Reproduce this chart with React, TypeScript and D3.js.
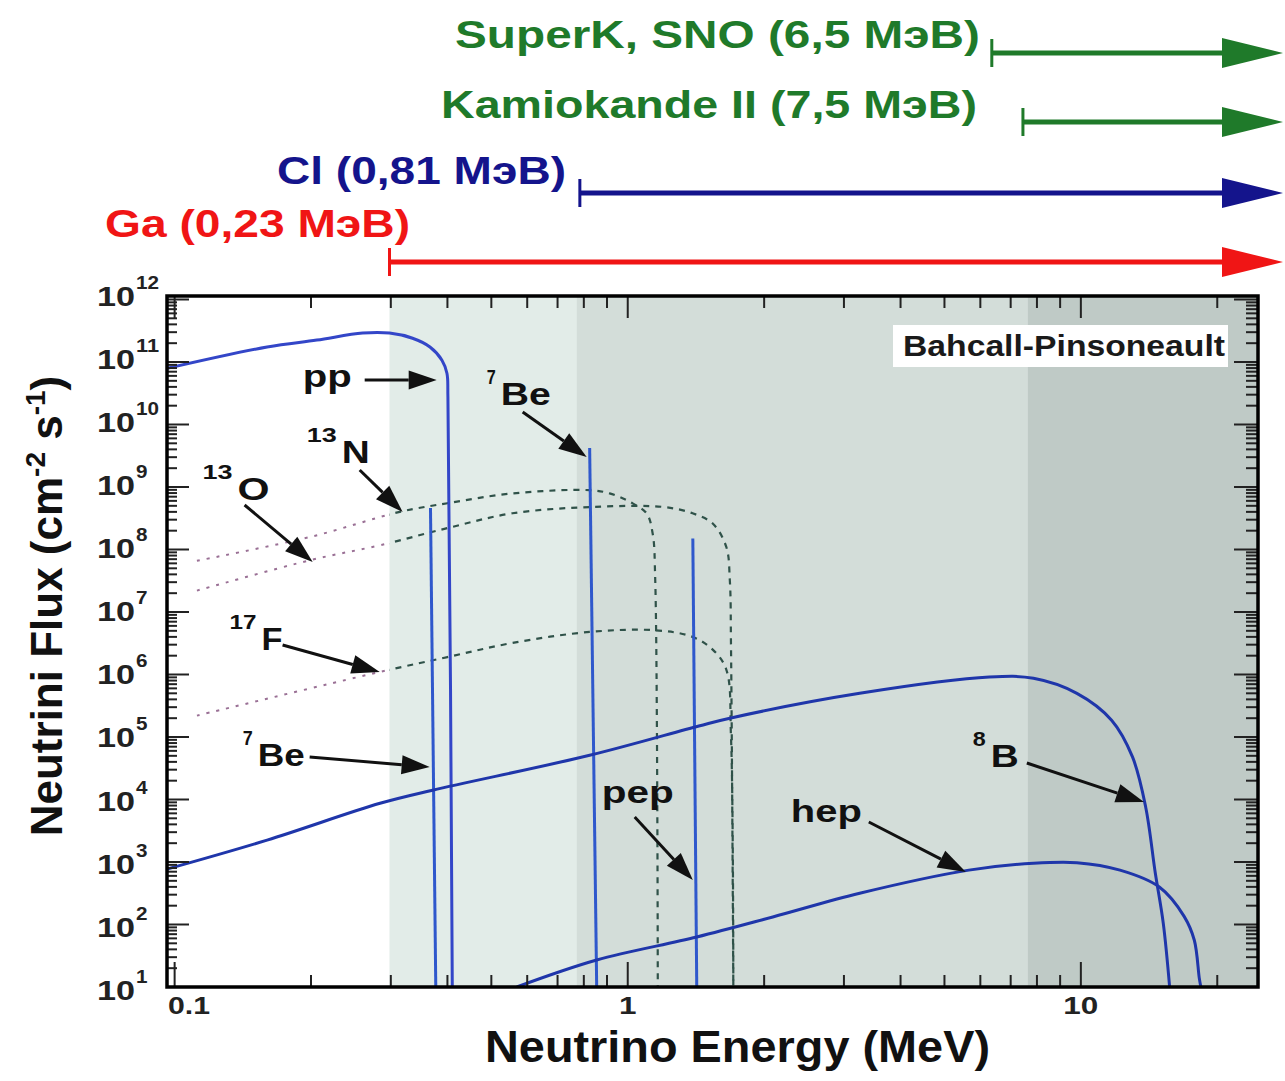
import React from 'react';
import * as d3 from 'd3';

// ---------------- data (energy in MeV, flux in cm^-2 s^-1) ----------------
const ppSpectrum: [number, number][] = [
  [0.0962, 7.9e10], [0.16, 1.74e11], [0.206, 2.24e11], [0.26, 2.9e11], [0.298, 2.9e11],
  [0.335, 2.4e11], [0.366, 1.74e11], [0.389, 1.07e11], [0.399, 6.6e10], [0.401, 2.75e10], [0.41, 10],
];
const n13Spectrum: [number, number][] = [
  [0.112, 6.6e7], [0.2, 1.6e8], [0.314, 4.0e8], [0.4, 5.5e8], [0.557, 7.9e8], [0.824, 8.9e8],
  [0.912, 7.9e8], [1.01, 5.8e8], [1.1, 3.8e8], [1.135, 1.8e8], [1.15, 3.2e7], [1.165, 10],
];
const o15Spectrum: [number, number][] = [
  [0.112, 2.2e7], [0.2, 6.8e7], [0.284, 1.17e8], [0.4, 2.2e8], [0.557, 3.8e8], [0.837, 4.8e8],
  [1.195, 4.8e8], [1.39, 3.8e8], [1.54, 2.6e8], [1.65, 1.1e8], [1.68, 3.2e7], [1.69, 2.8e6], [1.71, 10],
];
const f17Spectrum: [number, number][] = [
  [0.112, 2.2e5], [0.284, 1.1e6], [0.4, 1.9e6], [0.557, 3.2e6], [0.824, 4.8e6], [1.15, 5.1e6],
  [1.39, 4.0e6], [1.54, 2.5e6], [1.65, 1.2e6], [1.69, 1e5], [1.71, 10],
];
const b8Spectrum: [number, number][] = [
  [0.0962, 770], [0.16, 2240], [0.284, 8700], [0.371, 1.41e4], [0.824, 5.1e4],
  [1.435, 1.5e5], [1.68, 2.0e5], [3.25, 5.0e5], [6.28, 9.1e5], [7.86, 8.7e5], [9.8, 5.0e5],
  [11.69, 1.86e5], [13.0, 4.8e4], [13.9, 7.6e3], [14.6, 660], [15.2, 105], [15.7, 10],
];
const hepSpectrum: [number, number][] = [
  [0.569, 10], [0.854, 27], [1.42, 63], [2.09, 132], [3.25, 316], [5.66, 741], [7.86, 955],
  [9.8, 977], [12.2, 741], [14.9, 398], [16.9, 135], [17.8, 56], [18.25, 14], [18.4, 10],
];
const be7Line384: [number, number][] = [[0.367, 4.6e8], [0.377, 10]];
const be7Line862: [number, number][] = [[0.824, 4.2e9], [0.854, 10]];
const pepLine: [number, number][] = [[1.392, 1.5e8], [1.42, 10]];

const shadeEnergies = [0.298, 0.772, 7.64];
const shadeColors = ['#e2ece8', '#d3ddd9', '#bfcac6'];

const detectorLabels = ['SuperK, SNO (6,5 МэВ)', 'Kamiokande II (7,5 МэВ)', 'Cl (0,81 МэВ)', 'Ga (0,23 МэВ)'];
const detectorEnergies = [6.36, 7.45, 0.784, 0.298];
const detectorColors = ['#1f7a2a', '#1f7a2a', '#14148c', '#f01515'];

const xMajorTicks = [0.1, 1, 10];
const xTickLabels = ['0.1', '1', '10'];
const yExponents = [1, 2, 3, 4, 5, 6, 7, 8, 9, 10, 11, 12];

// annotation labels: superscript, main text, label anchor [E, flux], arrow from, arrow to
const annSup = ['', '7', '13', '13', '17', '7', '', '', '8'];
const annText = ['pp', 'Be', 'N', 'O', 'F', 'Be', 'pep', 'hep', 'B'];
const annAt: [number, number][] = [
  [0.1917, 3.98e10], [0.4884, 2.05e10], [0.1956, 2.42e9], [0.1153, 6.19e8], [0.1322, 2.47e6],
  [0.1413, 3.44e4], [0.8762, 8790], [2.29, 4370], [5.775, 3.31e4],
];
const annFrom: [number, number][] = [
  [0.2627, 5.15e10], [0.5863, 1.58e10], [0.2561, 1.87e9], [0.1427, 5.15e8], [0.1731, 2.96e6],
  [0.1986, 4.79e4], [1.036, 5250], [3.404, 4370], [7.6, 3.84e4],
];
const annTo: [number, number][] = [
  [0.3788, 5.15e10], [0.8117, 3.02e9], [0.3186, 3.98e8], [0.2017, 6.31e7], [0.2836, 1.1e6],
  [0.3655, 3.31e4], [1.392, 515], [5.574, 692], [13.78, 9120],
];

// ---------------- layout ----------------
const W = 1285, H = 1081;
const FONT = '"Liberation Sans", Arial, Helvetica, sans-serif';
const plot = { left: 167, right: 1258, top: 296, bottom: 987 };
const annSupW = [0, 9, 30, 30, 27, 10, 0, 0, 13];
const annTextW = [49, 50, 28, 32, 21, 47, 72, 71, 28];
const detRowY = [53, 122, 193, 262];
const detLabelRight = [980, 977, 566, 410];
const detLabelBase = [48, 118, 184, 237];
const detLabelW = [525, 536, 289, 305];

const x = d3.scaleLog().domain([0.0962, 24.6]).range([plot.left, plot.right]);
const y = d3.scaleLog().domain([10, 1e12]).range([987, 299.5]);

const line = d3.line<[number, number]>().x(d => x(d[0])).y(d => y(d[1])).curve(d3.curveCatmullRom.alpha(0.5));
const straight = d3.line<[number, number]>().x(d => x(d[0])).y(d => y(d[1]));

function head(x1: number, y1: number, x2: number, y2: number, len: number, hw: number) {
  const a = Math.atan2(y2 - y1, x2 - x1);
  const bx = x2 - len * Math.cos(a), by = y2 - len * Math.sin(a);
  const px = -Math.sin(a) * hw, py = Math.cos(a) * hw;
  return { d: `M${x2},${y2}L${bx + px},${by + py}L${bx - px},${by - py}Z`, bx, by };
}

export default function App() {
  const xMinor: number[] = [];
  [0.1, 1, 10].forEach(dec => {
    for (let m = 2; m <= 9; m++) {
      const v = m * dec;
      if (v >= 0.0962 && v <= 24.6) xMinor.push(v);
    }
  });
  const yMinor: number[] = [];
  for (let k = 1; k <= 11; k++) for (let m = 2; m <= 9; m++) yMinor.push(m * Math.pow(10, k));

  const dashed = [n13Spectrum, o15Spectrum, f17Spectrum];
  const splitX = x(shadeEnergies[0]);

  return (
    <svg width={W} height={H} style={{ position: 'absolute', left: 0, top: 0, background: '#fff' }}
      fontFamily={FONT} fontWeight="bold">
      <defs>
        <clipPath id="plotClip">
          <rect x={plot.left} y={plot.top} width={plot.right - plot.left} height={plot.bottom - plot.top} />
        </clipPath>
        <clipPath id="leftClip">
          <rect x={plot.left} y={plot.top} width={splitX - plot.left} height={plot.bottom - plot.top} />
        </clipPath>
        <clipPath id="rightClip">
          <rect x={splitX} y={plot.top} width={plot.right - splitX} height={plot.bottom - plot.top} />
        </clipPath>
      </defs>
      <rect x={0} y={0} width={W} height={H} fill="#fff" />

      {/* detector threshold arrows */}
      {detectorLabels.map((lab, i) => {
        const xs = x(detectorEnergies[i]);
        const yy = detRowY[i];
        const tipX = plot.right + 25;
        return (
          <g key={lab}>
            <line x1={xs} x2={tipX - 55} y1={yy} y2={yy} stroke={detectorColors[i]} strokeWidth={5} />
            <line x1={xs} x2={xs} y1={yy - 14} y2={yy + 14} stroke={detectorColors[i]} strokeWidth={3} />
            <path d={`M${tipX},${yy}L${tipX - 61},${yy - 15}L${tipX - 61},${yy + 15}Z`} fill={detectorColors[i]} />
            <text x={detLabelRight[i]} y={detLabelBase[i]} textAnchor="end" fontSize={38}
              fill={detectorColors[i]} textLength={detLabelW[i]} lengthAdjust="spacingAndGlyphs">{lab}</text>
          </g>
        );
      })}

      {/* shaded sensitivity regions */}
      <g clipPath="url(#plotClip)">
        {shadeEnergies.map((e, i) => (
          <rect key={i} x={x(e)} y={plot.top} width={plot.right - x(e)} height={plot.bottom - plot.top}
            fill={shadeColors[i]} />
        ))}
      </g>

      {/* Bahcall-Pinsoneault box */}
      <rect x={plot.right - 365} y={plot.top + 29} width={335} height={42} fill="#fff" />
      <text x={plot.right - 355} y={plot.top + 60} fontSize={30} fill="#1a1a1a" textLength={322}
        lengthAdjust="spacingAndGlyphs">Bahcall-Pinsoneault</text>

      {/* curves */}
      <g clipPath="url(#plotClip)" fill="none">
        {dashed.map((s, i) => (
          <g key={i}>
            <path d={line(s) || ''} clipPath="url(#leftClip)" stroke="#9a7095" strokeWidth={2}
              strokeDasharray="3,7" />
            <path d={line(s) || ''} clipPath="url(#rightClip)" stroke="#2f5249" strokeWidth={2.2}
              strokeDasharray="6,6" />
          </g>
        ))}
        <path d={line(ppSpectrum) || ''} stroke="#3346c8" strokeWidth={3} />
        <path d={straight(be7Line384) || ''} stroke="#2f58cc" strokeWidth={3} />
        <path d={straight(be7Line862) || ''} stroke="#2f58cc" strokeWidth={3} />
        <path d={straight(pepLine) || ''} stroke="#2f58cc" strokeWidth={3} />
        <path d={line(b8Spectrum) || ''} stroke="#1f36aa" strokeWidth={3} />
        <path d={line(hepSpectrum) || ''} stroke="#1f36aa" strokeWidth={3} />
      </g>

      {/* ticks */}
      <g stroke="#222" strokeWidth={2}>
        {xMajorTicks.map(v => (
          <g key={'xM' + v}>
            <line x1={x(v)} x2={x(v)} y1={plot.bottom} y2={plot.bottom - 25} />
            <line x1={x(v)} x2={x(v)} y1={plot.top} y2={plot.top + 22} />
          </g>
        ))}
        {xMinor.map(v => (
          <g key={'xm' + v}>
            <line x1={x(v)} x2={x(v)} y1={plot.bottom} y2={plot.bottom - 12} />
            <line x1={x(v)} x2={x(v)} y1={plot.top} y2={plot.top + 12} />
          </g>
        ))}
        {yExponents.map(k => (
          <g key={'yM' + k}>
            <line x1={plot.left} x2={plot.left + 22} y1={y(Math.pow(10, k))} y2={y(Math.pow(10, k))} />
            <line x1={plot.right} x2={plot.right - 24} y1={y(Math.pow(10, k))} y2={y(Math.pow(10, k))} />
          </g>
        ))}
        {yMinor.map(v => (
          <g key={'ym' + v}>
            <line x1={plot.left} x2={plot.left + 10} y1={y(v)} y2={y(v)} />
            <line x1={plot.right} x2={plot.right - 12} y1={y(v)} y2={y(v)} />
          </g>
        ))}
      </g>

      {/* frame */}
      <rect x={plot.left} y={plot.top} width={plot.right - plot.left} height={plot.bottom - plot.top}
        fill="none" stroke="#000" strokeWidth={3.5} />

      {/* annotations */}
      {annText.map((t, i) => {
        const [lx, ly] = [x(annAt[i][0]), y(annAt[i][1])];
        const [fx, fy] = [x(annFrom[i][0]), y(annFrom[i][1])];
        const [tx, ty] = [x(annTo[i][0]), y(annTo[i][1])];
        const h = head(fx, fy, tx, ty, 28, 9.5);
        const mainX = lx + annSupW[i] + (annSupW[i] ? 5 : 0);
        return (
          <g key={i} fill="#111">
            {annSup[i] && (
              <text x={lx} y={ly - 21} fontSize={21} textLength={annSupW[i]} lengthAdjust="spacingAndGlyphs">
                {annSup[i]}
              </text>
            )}
            <text x={mainX} y={ly} fontSize={32} textLength={annTextW[i]} lengthAdjust="spacingAndGlyphs">{t}</text>
            <line x1={fx} y1={fy} x2={h.bx} y2={h.by} stroke="#111" strokeWidth={3} />
            <path d={h.d} fill="#111" />
          </g>
        );
      })}

      {/* tick labels */}
      {yExponents.map(k => {
        const base = y(Math.pow(10, k)) + 6 + (12 - k) * 0.63;
        const exp = String(k);
        return (
          <g key={'yl' + k} fill="#222">
            <text x={97} y={base} fontSize={28} textLength={38} lengthAdjust="spacingAndGlyphs">10</text>
            <text x={136} y={base - 17} fontSize={19} textLength={exp.length * 11.5}
              lengthAdjust="spacingAndGlyphs">{exp}</text>
          </g>
        );
      })}
      {xMajorTicks.map((v, i) => (
        <text key={'xl' + v} x={i === 0 ? plot.left + 1 : x(v)} y={1014} fontSize={24} fill="#222"
          textAnchor={i === 0 ? 'start' : 'middle'} textLength={i === 0 ? 42 : xTickLabels[i].length * 17.5}
          lengthAdjust="spacingAndGlyphs">{xTickLabels[i]}</text>
      ))}

      {/* axis titles */}
      <text x={485} y={1062} fontSize={45} fill="#111" textLength={505} lengthAdjust="spacingAndGlyphs">
        Neutrino Energy (MeV)
      </text>
      <text transform="translate(62,606) rotate(-90)" textAnchor="middle" fontSize={44} fill="#111">
        <tspan>Neutrini Flux  (cm</tspan>
        <tspan fontSize={28} dy={-17}>-2</tspan>
        <tspan dy={17}> s</tspan>
        <tspan fontSize={28} dy={-17}>-1</tspan>
        <tspan dy={17}>)</tspan>
      </text>
    </svg>
  );
}
